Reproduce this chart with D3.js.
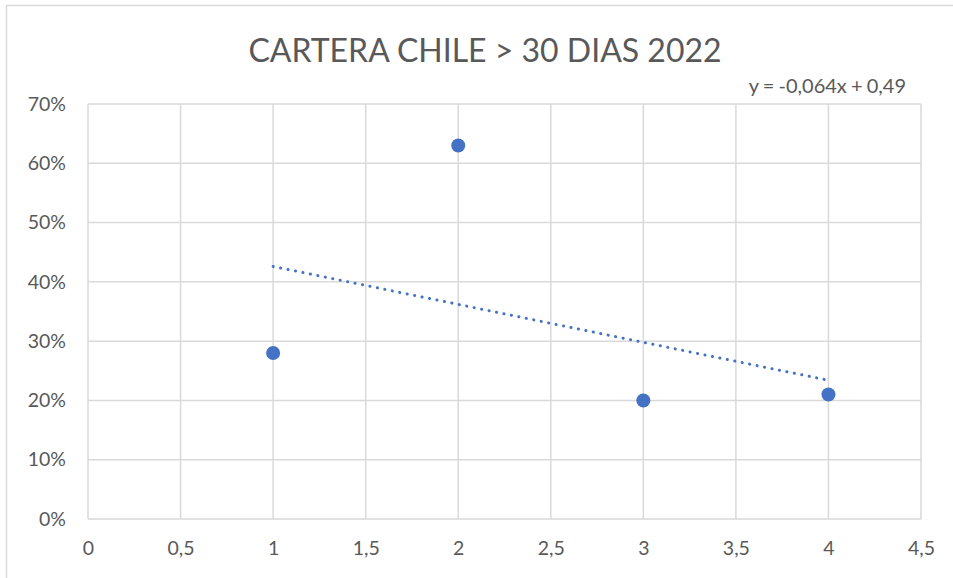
<!DOCTYPE html>
<html lang="es">
<head>
<meta charset="UTF-8">
<script src="https://d3js.org/d3.v7.min.js"></script>
<style>
  body { margin: 0; background: #fff; }
  text { font-family: Lato, "Open Sans", sans-serif; fill: #595959; }
</style>
</head>
<body>
<div id="chart"></div>
<script>
// data
var xVals = [1, 2, 3, 4];
var yVals = [0.28, 0.63, 0.20, 0.21];
var xTicks = [0, 0.5, 1, 1.5, 2, 2.5, 3, 3.5, 4, 4.5];
var yTicks = [0, 0.1, 0.2, 0.3, 0.4, 0.5, 0.6, 0.7];
var trendSlope = -0.064, trendIntercept = 0.49;
var trendLabel = "y = -0,064x + 0,49";
var title = "CARTERA CHILE > 30 DIAS 2022";

var W = 953, H = 578;
var margin = {top: 104, right: 32, bottom: 59, left: 88};

var svg = d3.select("#chart").append("svg")
    .attr("width", W).attr("height", H);

// chart frame
svg.append("rect")
    .attr("x", 6.5).attr("y", 5.5)
    .attr("width", W - 4).attr("height", H)
    .attr("fill", "none").attr("stroke", "#d9d9d9").attr("stroke-width", 1.5);

var x = d3.scaleLinear().domain([0, 4.5]).range([margin.left, W - margin.right]);
var y = d3.scaleLinear().domain([0, 0.7]).range([H - margin.bottom, margin.top]);

var comma = function(d) { return String(d).replace(".", ","); };

// grid
svg.append("g").selectAll("line").data(xTicks).enter().append("line")
    .attr("x1", d => x(d)).attr("x2", d => x(d))
    .attr("y1", y(0)).attr("y2", y(0.7))
    .attr("stroke", "#d9d9d9").attr("stroke-width", 1.5);
svg.append("g").selectAll("line").data(yTicks).enter().append("line")
    .attr("x1", x(0)).attr("x2", x(4.5))
    .attr("y1", d => y(d)).attr("y2", d => y(d))
    .attr("stroke", "#d9d9d9").attr("stroke-width", 1.5);

// axes labels
var xAxis = svg.append("g")
    .attr("transform", "translate(0," + y(0) + ")")
    .call(d3.axisBottom(x).tickValues(xTicks).tickFormat(comma).tickSize(0).tickPadding(22));
var yAxis = svg.append("g")
    .attr("transform", "translate(" + x(0) + ",0)")
    .call(d3.axisLeft(y).tickValues(yTicks).tickFormat(d3.format(".0%")).tickSize(0).tickPadding(22));
[xAxis, yAxis].forEach(function(a) {
    a.select(".domain").remove();
    a.selectAll("text").style("font-size", "19.5px").attr("fill", "#595959");
});
xAxis.selectAll("text").attr("dy", "0.71em");

// trendline
svg.append("line")
    .attr("x1", x(1)).attr("y1", y(trendSlope * 1 + trendIntercept))
    .attr("x2", x(4)).attr("y2", y(trendSlope * 4 + trendIntercept))
    .attr("stroke", "#4472c4").attr("stroke-width", 3)
    .attr("stroke-linecap", "round")
    .attr("stroke-dasharray", "0.1 7.5");

// points
svg.append("g").selectAll("circle").data(xVals).enter().append("circle")
    .attr("cx", d => x(d))
    .attr("cy", (d, i) => y(yVals[i]))
    .attr("r", 7)
    .attr("fill", "#4472c4");

// title
svg.append("text")
    .attr("x", 485).attr("y", 62)
    .attr("text-anchor", "middle")
    .style("font-size", "32px")
    .text(title);

// trend equation
svg.append("text")
    .attr("x", 906).attr("y", 93)
    .attr("text-anchor", "end")
    .style("font-size", "20px")
    .attr("word-spacing", "-1px")
    .text(trendLabel);
</script>
</body>
</html>
